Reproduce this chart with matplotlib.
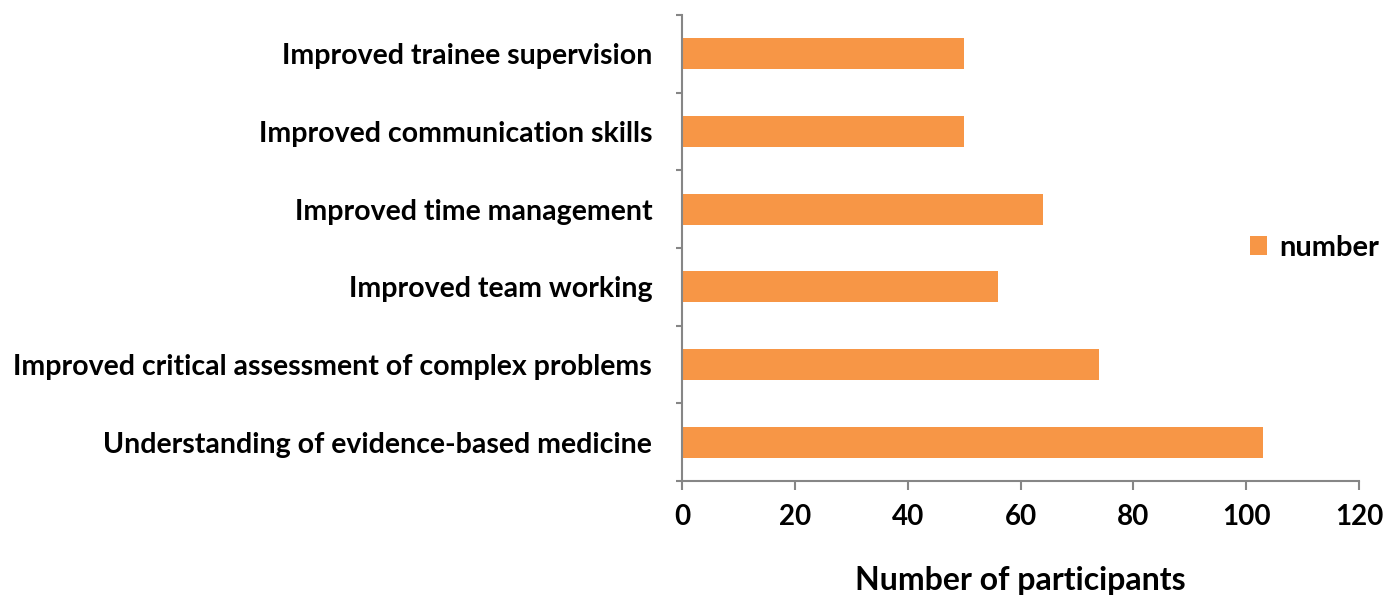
import numpy as np
import matplotlib.pyplot as plt
from matplotlib.ticker import FixedLocator

categories = ['Understanding of evidence-based medicine',
              'Improved critical assessment of complex problems',
              'Improved team working',
              'Improved time management',
              'Improved communication skills',
              'Improved trainee supervision']
number = [103, 74, 56, 64, 50, 50]
x_ticks = [0, 20, 40, 60, 80, 100, 120]

bar_color = '#F79646'
axis_color = '#868686'
plt.rcParams['font.family'] = ['Lato', 'DejaVu Sans']

fig = plt.figure(figsize=(13.99, 6.02), dpi=100)
ax = fig.add_axes([0.4875, 0.201, 0.4839, 0.774])

y = np.arange(len(categories))
ax.barh(y, number, height=0.4, color=bar_color, label='number')

ax.set_xlim(0, 120)
ax.set_ylim(-0.5, len(categories) - 0.5)
ax.set_xticks(x_ticks)
ax.set_xticklabels([str(t) for t in x_ticks], fontsize=20, fontweight='bold')
ax.set_yticks(y)
ax.set_yticklabels(categories, fontsize=20.5, fontweight='bold')
ax.yaxis.set_minor_locator(FixedLocator(np.arange(-0.5, len(categories), 1.0)))

ax.tick_params(axis='y', which='major', length=0, pad=21.5)
ax.tick_params(axis='y', which='minor', length=4.5, width=1.5, color=axis_color)
ax.tick_params(axis='x', length=6.5, width=1.5, color=axis_color, pad=10)

for s in ['top', 'right']:
    ax.spines[s].set_visible(False)
for s in ['left', 'bottom']:
    ax.spines[s].set_color(axis_color)
    ax.spines[s].set_linewidth(1.5)

ax.set_xlabel('Number of participants', fontsize=23, fontweight='bold', labelpad=26)

leg = ax.legend(loc='center left', bbox_to_anchor=(0.8, 0.5), frameon=False,
                prop={'size': 21, 'weight': 'bold'}, handlelength=0.6, handleheight=0.6,
                handletextpad=0.4)

fig.savefig('out.png', dpi=100)
